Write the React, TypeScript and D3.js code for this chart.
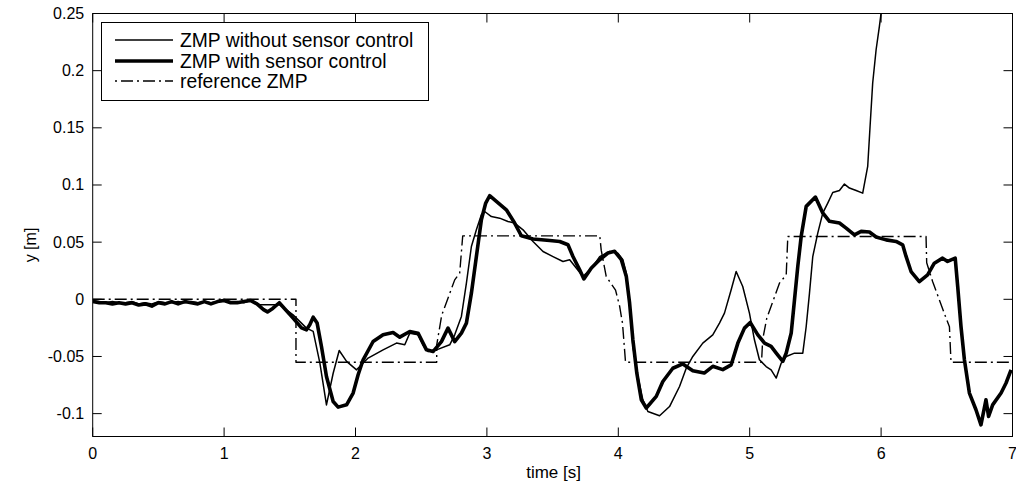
import React from "react";
import * as d3 from "d3";

const xTicks = [0, 1, 2, 3, 4, 5, 6, 7];
const yTicks = [-0.1, -0.05, 0, 0.05, 0.1, 0.15, 0.2, 0.25];
const yTickLabels = ["-0.1", "-0.05", "0", "0.05", "0.1", "0.15", "0.2", "0.25"];
const legendLabels = ["ZMP without sensor control", "ZMP with sensor control", "reference ZMP"];

const thinSeries: [number, number][] = [
  [0, -0.001], [0.05, -0.002], [0.1, -0.003], [0.15, -0.002], [0.2, -0.003], [0.25, -0.003],
  [0.3, -0.002], [0.35, -0.004], [0.4, -0.003], [0.45, -0.004], [0.5, -0.002], [0.55, -0.003],
  [0.6, -0.003], [0.65, -0.002], [0.7, -0.003], [0.75, -0.002], [0.8, -0.003], [0.85, -0.002],
  [0.9, -0.003], [0.95, -0.002], [1.0, 0.0], [1.05, -0.002], [1.1, -0.002], [1.15, -0.003],
  [1.2, -0.001], [1.272, -0.0048], [1.424, -0.0048], [1.525, -0.0136], [1.627, -0.0252],
  [1.678, -0.0281], [1.729, -0.0559], [1.779, -0.0924], [1.83, -0.0647], [1.876, -0.0448],
  [1.932, -0.0543], [2.008, -0.0617], [2.096, -0.0514], [2.21, -0.0442], [2.312, -0.0383],
  [2.375, -0.0398], [2.413, -0.0296], [2.476, -0.031], [2.514, -0.04], [2.552, -0.0457],
  [2.616, -0.0442], [2.717, -0.0398], [2.755, -0.0311], [2.806, -0.015], [2.844, 0.0142],
  [2.882, 0.0462], [2.92, 0.0608], [2.958, 0.0739], [2.983, 0.0768], [3.034, 0.0724],
  [3.097, 0.071], [3.16, 0.0681], [3.211, 0.0667], [3.275, 0.0608], [3.351, 0.0506],
  [3.427, 0.0418], [3.503, 0.0374], [3.579, 0.0331], [3.63, 0.0346], [3.731, 0.0199],
  [3.807, 0.0287], [3.858, 0.0374], [3.934, 0.0418], [3.997, 0.0404], [4.035, 0.0346],
  [4.061, 0.0229], [4.086, -0.0033], [4.111, -0.0413], [4.149, -0.0675], [4.187, -0.0879],
  [4.225, -0.0982], [4.314, -0.1019], [4.39, -0.0938], [4.466, -0.0763], [4.517, -0.0602],
  [4.567, -0.05], [4.643, -0.0383], [4.719, -0.0311], [4.77, -0.0208], [4.808, -0.0121],
  [4.859, 0.0083], [4.897, 0.0243], [4.947, 0.0112], [4.998, -0.0121], [5.036, -0.0354],
  [5.074, -0.0529], [5.125, -0.0588], [5.163, -0.0617], [5.202, -0.0689], [5.24, -0.0558],
  [5.278, -0.05], [5.341, -0.0471], [5.404, -0.0471], [5.43, -0.0238], [5.455, 0.0054],
  [5.48, 0.0374], [5.518, 0.0579], [5.556, 0.0754], [5.594, 0.0842], [5.632, 0.0934],
  [5.683, 0.0952], [5.721, 0.1008], [5.759, 0.0973], [5.81, 0.0952], [5.86, 0.0929],
  [5.898, 0.1162], [5.916, 0.1512], [5.936, 0.1892], [5.962, 0.2183], [5.987, 0.2387],
  [6.0, 0.2504], [6.018, 0.271],
];

const thickSeries: [number, number][] = [
  [0, -0.002], [0.05, -0.003], [0.1, -0.003], [0.15, -0.004], [0.2, -0.003], [0.25, -0.004],
  [0.3, -0.003], [0.35, -0.005], [0.4, -0.004], [0.45, -0.006], [0.5, -0.003], [0.55, -0.004],
  [0.6, -0.002], [0.65, -0.004], [0.7, -0.002], [0.75, -0.003], [0.8, -0.004], [0.85, -0.002],
  [0.9, -0.004], [0.95, -0.002], [1.0, -0.001], [1.05, -0.003], [1.1, -0.003], [1.15, -0.002],
  [1.2, -0.001], [1.25, -0.004], [1.3, -0.009], [1.33, -0.011], [1.37, -0.008], [1.42, -0.003],
  [1.525, -0.0165], [1.589, -0.025], [1.627, -0.0267], [1.652, -0.0223], [1.678, -0.0156],
  [1.708, -0.0208], [1.741, -0.0413], [1.779, -0.0675], [1.83, -0.0894], [1.868, -0.0943],
  [1.932, -0.0923], [1.982, -0.082], [2.02, -0.066], [2.058, -0.0529], [2.134, -0.0369],
  [2.21, -0.031], [2.286, -0.029], [2.337, -0.0331], [2.413, -0.0282], [2.476, -0.0296],
  [2.54, -0.0442], [2.59, -0.0457], [2.654, -0.037], [2.704, -0.0252], [2.755, -0.037],
  [2.806, -0.0296], [2.844, -0.0208], [2.882, 0.0054], [2.92, 0.0375], [2.958, 0.0696],
  [2.991, 0.0842], [3.021, 0.0906], [3.072, 0.0857], [3.148, 0.0783], [3.211, 0.0667],
  [3.262, 0.0556], [3.351, 0.0527], [3.478, 0.0514], [3.554, 0.0506], [3.617, 0.0477],
  [3.655, 0.0374], [3.706, 0.0258], [3.738, 0.0178], [3.795, 0.0274], [3.858, 0.0346],
  [3.921, 0.0405], [3.972, 0.042], [4.023, 0.0346], [4.061, 0.02], [4.086, -0.0033],
  [4.111, -0.0354], [4.141, -0.0646], [4.175, -0.0879], [4.213, -0.0951], [4.289, -0.0849],
  [4.339, -0.0719], [4.415, -0.0603], [4.491, -0.0565], [4.567, -0.0624], [4.654, -0.0645],
  [4.719, -0.0586], [4.795, -0.0615], [4.859, -0.0573], [4.91, -0.0383], [4.96, -0.0252],
  [5.004, -0.0203], [5.062, -0.0311], [5.113, -0.0383], [5.163, -0.0412], [5.202, -0.047],
  [5.252, -0.0543], [5.278, -0.047], [5.316, -0.0295], [5.341, -0.0004], [5.366, 0.0288],
  [5.392, 0.0551], [5.43, 0.0813], [5.5, 0.0894], [5.556, 0.0755], [5.607, 0.0682],
  [5.683, 0.0667], [5.734, 0.0623], [5.797, 0.0564], [5.848, 0.0594], [5.911, 0.0589],
  [5.962, 0.0545], [6.038, 0.052], [6.114, 0.0506], [6.164, 0.0477], [6.19, 0.0375],
  [6.228, 0.0243], [6.291, 0.0155], [6.354, 0.0214], [6.405, 0.0316], [6.468, 0.036],
  [6.506, 0.0331], [6.564, 0.036], [6.583, 0.0112], [6.608, -0.0238], [6.634, -0.0529],
  [6.672, -0.082], [6.722, -0.0966], [6.76, -0.1098], [6.798, -0.0879], [6.818, -0.1025],
  [6.849, -0.0923], [6.913, -0.082], [6.951, -0.0732], [6.989, -0.0618],
];

const refSeries: [number, number][] = [
  [0, 0], [1.547, 0], [1.547, -0.055], [2.618, -0.055], [2.618, -0.04], [2.656, -0.014],
  [2.755, 0.017], [2.793, 0.023], [2.816, 0.0555], [3.859, 0.0555], [3.87, 0.043],
  [3.908, 0.02], [3.979, 0.008], [4.01, -0.006], [4.032, -0.021], [4.055, -0.055],
  [5.09, -0.055], [5.099, -0.035], [5.13, -0.0165], [5.227, 0.0142], [5.278, 0.0214],
  [5.29, 0.055], [6.342, 0.055], [6.347, 0.032], [6.392, 0.0156], [6.49, -0.015],
  [6.52, -0.024], [6.532, -0.055], [7, -0.055],
];

const W = 1016;
const H = 491;
const left = 92.7;
const right = 1012.5;
const top = 13.5;
const bottom = 436.5;
const FONT = "'Liberation Sans', Arial, Helvetica, sans-serif";
const DASH = "12,4,2,4";

export default function App() {
  const x = d3.scaleLinear().domain([0, 7]).range([left, right]);
  const y = d3.scaleLinear().domain([-0.12, 0.25]).range([bottom, top]);
  const line = d3
    .line<[number, number]>()
    .x((d) => x(d[0]))
    .y((d) => y(d[1]));
  const tickLen = 9;

  const legX = 101.5;
  const legY = 22.5;
  const legW = 327;
  const legH = 78;
  const rows = [40, 61, 81];

  return (
    <svg
      width={W}
      height={H}
      style={{ position: "absolute", left: 0, top: 0, background: "#fff" }}
      fontFamily={FONT}
    >
      <defs>
        <clipPath id="plotclip">
          <rect x={left} y={top} width={right - left} height={bottom - top} />
        </clipPath>
      </defs>
      <rect x={0} y={0} width={W} height={H} fill="#fff" />
      <g clipPath="url(#plotclip)" fill="none" strokeLinejoin="round">
        <path d={line(refSeries) || ""} stroke="#000" strokeWidth={1.4} strokeDasharray={DASH} />
        <path d={line(thinSeries) || ""} stroke="#000" strokeWidth={1.5} />
        <path d={line(thickSeries) || ""} stroke="#000" strokeWidth={3.6} />
      </g>
      <g stroke="#000" strokeWidth={1}>
        {xTicks.map((t) => (
          <g key={"xt" + t}>
            <line x1={x(t)} x2={x(t)} y1={bottom} y2={bottom - tickLen} />
            <line x1={x(t)} x2={x(t)} y1={top} y2={top + tickLen} />
          </g>
        ))}
        {yTicks.map((t) => (
          <g key={"yt" + t}>
            <line x1={left} x2={left + tickLen} y1={y(t)} y2={y(t)} />
            <line x1={right} x2={right - tickLen} y1={y(t)} y2={y(t)} />
          </g>
        ))}
      </g>
      <rect
        x={left}
        y={top}
        width={right - left}
        height={bottom - top}
        fill="none"
        stroke="#000"
        strokeWidth={1}
      />
      <g fontSize={16} fill="#000">
        {xTicks.map((t) => (
          <text key={"xl" + t} x={x(t)} y={bottom + 22} textAnchor="middle">
            {String(t)}
          </text>
        ))}
        {yTicks.map((t, i) => (
          <text key={"yl" + t} x={left - 8.5} y={y(t) + 5.5} textAnchor="end">
            {yTickLabels[i]}
          </text>
        ))}
      </g>
      <text x={(left + right) / 2 + 1} y={478} fontSize={17} textAnchor="middle">
        time [s]
      </text>
      <text
        transform={`translate(36,${(top + bottom) / 2 + 20}) rotate(-90)`}
        fontSize={16}
        textAnchor="middle"
      >
        y [m]
      </text>
      <rect x={legX} y={legY} width={legW} height={legH} fill="#fff" stroke="#000" strokeWidth={1} />
      <line x1={115} x2={173} y1={rows[0]} y2={rows[0]} stroke="#000" strokeWidth={1.5} />
      <line x1={115} x2={173} y1={rows[1]} y2={rows[1]} stroke="#000" strokeWidth={3.6} />
      <line
        x1={115}
        x2={173}
        y1={rows[2]}
        y2={rows[2]}
        stroke="#000"
        strokeWidth={1.4}
        strokeDasharray="2,4,12,4"
      />
      {legendLabels.map((l, i) => (
        <text key={l} x={180} y={rows[i] + 6.5} fontSize={19.3} fill="#000">
          {l}
        </text>
      ))}
    </svg>
  );
}
